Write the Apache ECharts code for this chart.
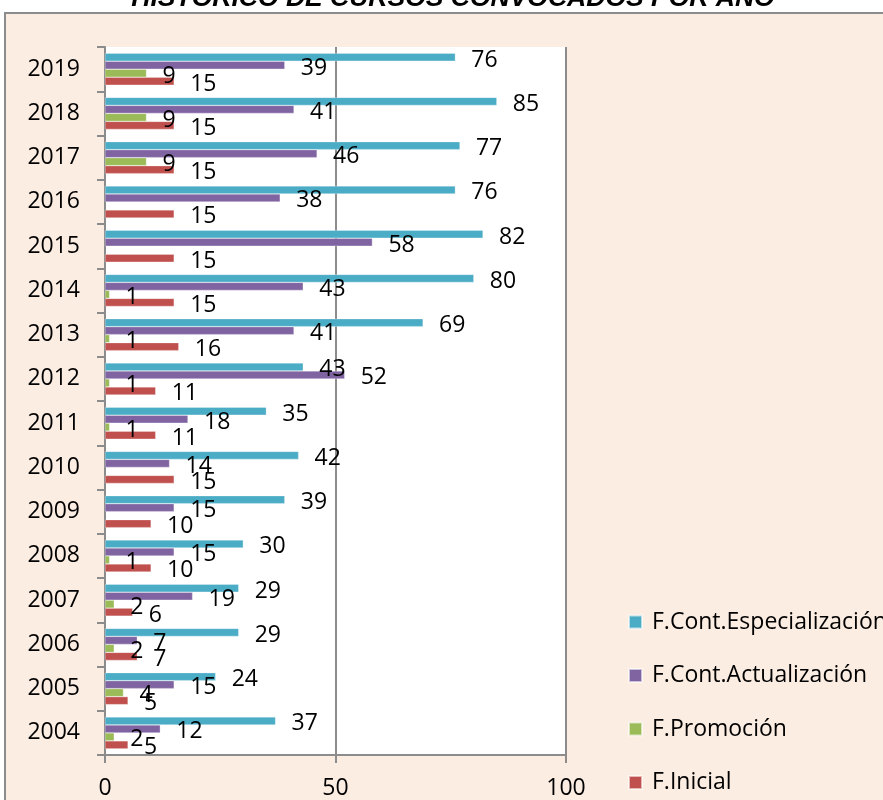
<!DOCTYPE html>
<html>
<head>
<meta charset="utf-8">
<script src="https://cdn.jsdelivr.net/npm/echarts@6/dist/echarts.min.js"></script>
<style>
html,body{margin:0;padding:0;background:#fff;}
#chart{width:883px;height:800px;}
</style>
</head>
<body>
<div id="chart"></div>
<script>
const titleText = 'HISTÓRICO DE CURSOS CONVOCADOS POR AÑO';
const years = ['2004','2005','2006','2007','2008','2009','2010','2011','2012','2013','2014','2015','2016','2017','2018','2019'];
const especializacion = [37,24,29,29,30,39,42,35,43,69,80,82,76,77,85,76];
const actualizacion = [12,15,7,19,15,15,14,18,52,41,43,58,38,46,41,39];
const promocion = [2,4,2,2,1,null,null,1,1,1,1,null,null,9,9,9];
const inicial = [5,5,7,6,10,10,15,11,11,16,15,15,15,15,15,15];
const seriesNames = ['F.Cont.Especialización','F.Cont.Actualización','F.Promoción','F.Inicial'];
const xTicks = [0, 50, 100];

const colors = ['#4BACC6','#8064A2','#9BBB59','#C0504D'];
const FONT = 'Open Sans';
const chart = echarts.init(document.getElementById('chart'), null, {renderer:'canvas'});

const dataSets = [especializacion, actualizacion, promocion, inicial];
const series = dataSets.map((d, i) => ({
  name: seriesNames[i],
  type: 'bar',
  data: d,
  barWidth: 8,
  barGap: '0%',
  itemStyle: {color: colors[i], borderColor: 'rgba(255,255,255,0.6)', borderWidth: 0.5},
  label: {
    show: true, position: 'right', distance: 16, offset: [0, 3],
    color: '#000', fontSize: 23, fontFamily: FONT
  }
}));

chart.setOption({
  backgroundColor: '#fff',
  animation: false,
  graphic: [
    {type:'rect', z: -10, shape:{x:5, y:13, width:900, height:800},
     style:{fill:'#FCEDE2', stroke:'#8c8c8c', lineWidth:2}},
    {type:'text', z: 10, style:{text: titleText, x: 453, y: -1, align:'center', verticalAlign:'middle',
      font: 'italic bold 26.5px "Liberation Sans"', fill:'#000'}}
  ],
  grid: {left:105, right:317, top:47, bottom:44, show:true, backgroundColor:'#fff', borderWidth:0},
  legend: {
    orient:'vertical', left: 628, top: 610, bottom: 0, padding: 0,
    data: seriesNames,
    itemWidth: 13, itemHeight: 13, itemGap: 29.5, icon: 'rect',
    textStyle: {fontSize: 23, fontFamily: FONT, color:'#000', lineHeight: 24, padding:[0,0,0,5]}
  },
  xAxis: {
    type:'value', min: xTicks[0], max: xTicks[xTicks.length-1], interval: 50,
    axisLine: {show:true, lineStyle:{color:'#8c8c8c', width:2}},
    axisTick: {show:true, length:8, lineStyle:{color:'#8c8c8c', width:2}},
    splitLine: {show:true, lineStyle:{color:'#8c8c8c', width:2}},
    axisLabel: {fontSize:23, fontFamily:FONT, color:'#000', margin:22}
  },
  yAxis: {
    type:'category', data: years,
    axisLine: {show:true, lineStyle:{color:'#8c8c8c', width:2}},
    axisTick: {show:true, length:8, lineStyle:{color:'#8c8c8c', width:2}},
    axisLabel: {fontSize:23, fontFamily:FONT, color:'#000', margin:25}
  },
  series: series
});
</script>
</body>
</html>
